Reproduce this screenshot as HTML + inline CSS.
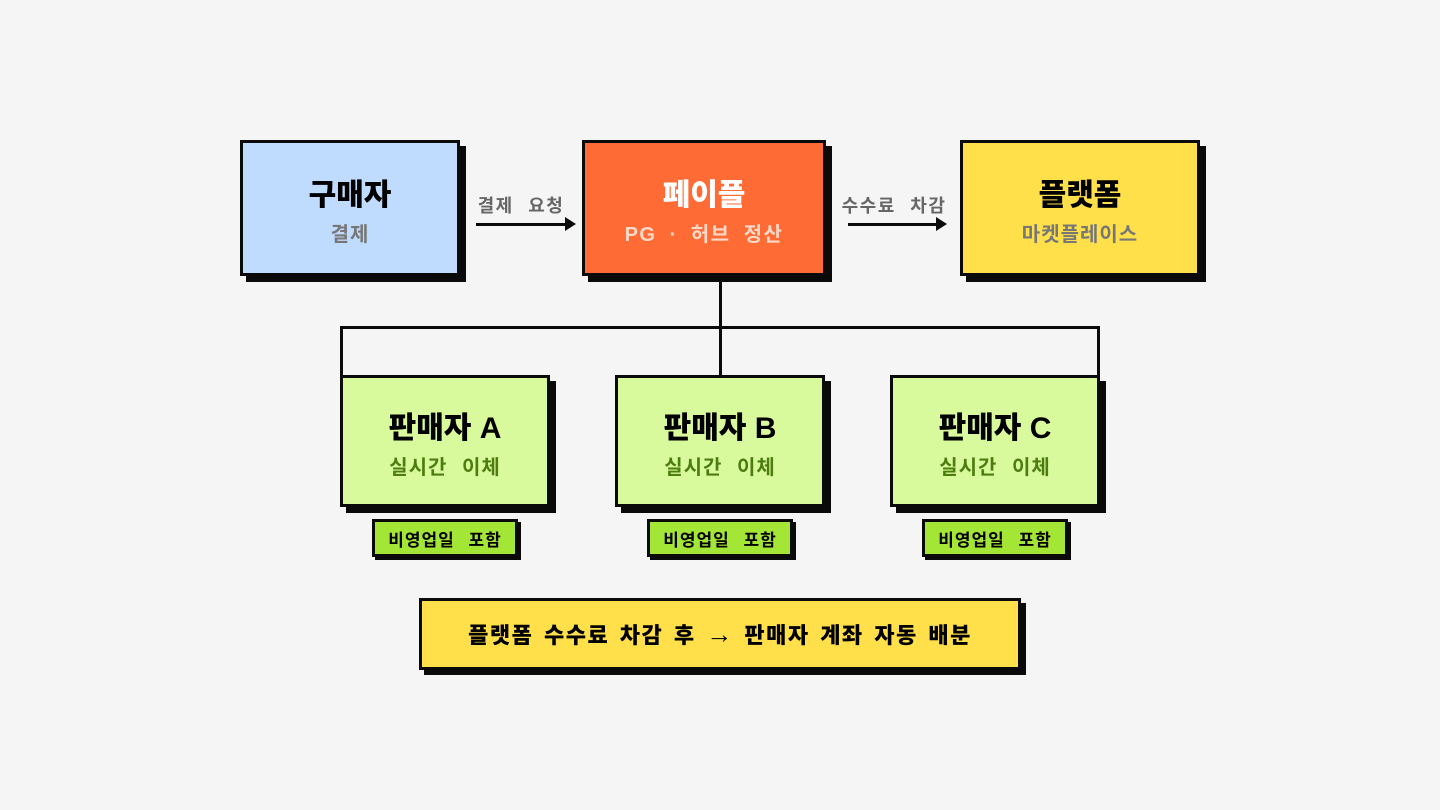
<!DOCTYPE html>
<html><head><meta charset="utf-8"><style>
body{margin:0;width:1440px;height:810px;background:#f5f5f5;position:relative;overflow:hidden;font-family:"Liberation Sans","Noto Sans CJK KR",sans-serif}
.b{position:absolute;box-sizing:border-box;border:3px solid #0a0a0a;box-shadow:6px 6px 0 #0a0a0a;display:flex;flex-direction:column;align-items:center;justify-content:center;text-align:center}
.t{font-size:30px;font-weight:900;line-height:36px;margin-top:8px}
.s{font-size:20px;font-weight:700;margin-top:4px;letter-spacing:1px;word-spacing:8px}
.tag{position:absolute;box-sizing:border-box;border:3px solid #0a0a0a;box-shadow:3px 3px 0 #0a0a0a;background:#a3e635;font-size:17px;font-weight:700;display:flex;align-items:center;justify-content:center;letter-spacing:1px;word-spacing:8px}
.l{position:absolute;background:#0a0a0a}
.lab{position:absolute;font-size:18px;font-weight:700;color:#666;text-align:center;letter-spacing:1.5px;word-spacing:8px}
</style></head><body>
<div class="l" style="left:719px;top:276px;width:3px;height:100px"></div>
<div class="l" style="left:340px;top:326px;width:760px;height:3px"></div>
<div class="l" style="left:340px;top:326px;width:3px;height:50px"></div>
<div class="l" style="left:1097px;top:326px;width:3px;height:50px"></div>

<div class="b" style="left:240px;top:140px;width:220px;height:136px;background:#bfdbfe"><div class="t">구매자</div><div class="s" style="color:#777">결제</div></div>
<div class="b" style="left:582px;top:140px;width:244px;height:136px;background:#ff6b35"><div class="t" style="color:#fff">페이플</div><div class="s" style="color:#ffd9c8;letter-spacing:1.5px;word-spacing:6px">PG · 허브 정산</div></div>
<div class="b" style="left:960px;top:140px;width:240px;height:136px;background:#ffe04a"><div class="t">플랫폼</div><div class="s" style="color:#777">마켓플레이스</div></div>

<div class="lab" style="left:456px;top:192px;width:130px">결제 요청</div>
<div class="l" style="left:476px;top:223px;width:90px;height:3px"></div>
<div style="position:absolute;left:565px;top:217px;border-left:11px solid #0a0a0a;border-top:7px solid transparent;border-bottom:7px solid transparent"></div>
<div class="lab" style="left:826px;top:192px;width:136px">수수료 차감</div>
<div class="l" style="left:848px;top:223px;width:90px;height:3px"></div>
<div style="position:absolute;left:936px;top:217px;border-left:11px solid #0a0a0a;border-top:7px solid transparent;border-bottom:7px solid transparent"></div>

<div class="b" style="left:340px;top:375px;width:210px;height:132px;background:#d9f99d"><div class="t">판매자 A</div><div class="s" style="color:#4d7c0f">실시간 이체</div></div>
<div class="b" style="left:615px;top:375px;width:210px;height:132px;background:#d9f99d"><div class="t">판매자 B</div><div class="s" style="color:#4d7c0f">실시간 이체</div></div>
<div class="b" style="left:890px;top:375px;width:210px;height:132px;background:#d9f99d"><div class="t">판매자 C</div><div class="s" style="color:#4d7c0f">실시간 이체</div></div>

<div class="tag" style="left:372px;top:519px;width:146px;height:38px">비영업일 포함</div>
<div class="tag" style="left:647px;top:519px;width:146px;height:38px">비영업일 포함</div>
<div class="tag" style="left:922px;top:519px;width:146px;height:38px">비영업일 포함</div>

<div class="b" style="left:419px;top:598px;width:602px;height:72px;background:#ffe04a;box-shadow:5px 5px 0 #0a0a0a"><div style="font-size:22px;font-weight:800;letter-spacing:1.5px;word-spacing:3px">플랫폼 수수료 차감 후 <b style="font-size:26px">→</b> 판매자 계좌 자동 배분</div></div>
</body></html>
